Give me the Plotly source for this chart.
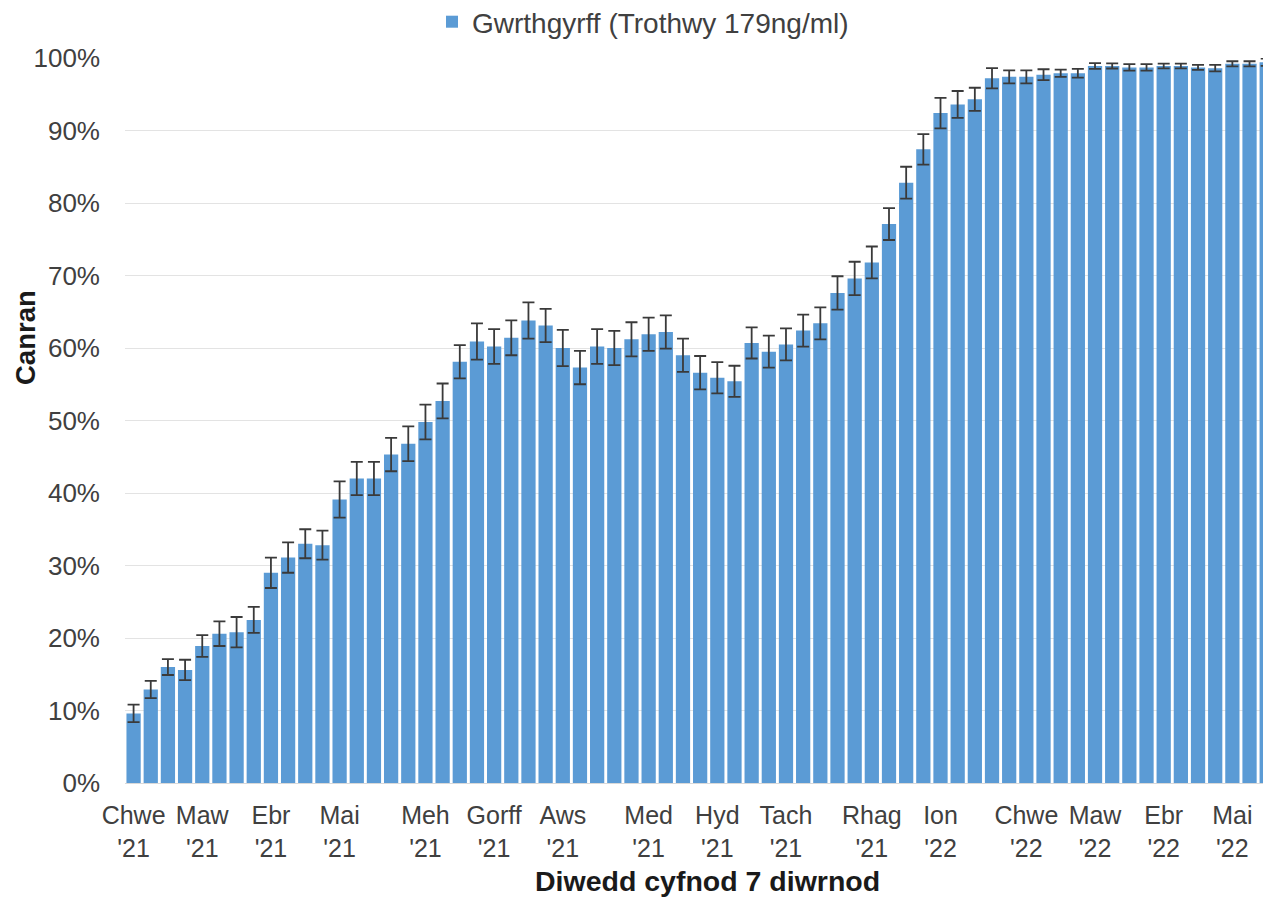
import plotly.graph_objects as go

# Weekly share of adults with antibodies (7-day periods), %
values = [9.6, 12.9, 16.0, 15.6, 18.9, 20.6, 20.8, 22.5, 29.0, 31.1,
          33.0, 32.8, 39.1, 42.0, 42.0, 45.3, 46.8, 49.8, 52.7, 58.1,
          60.9, 60.2, 61.4, 63.8, 63.1, 60.0, 57.3, 60.2, 60.0, 61.2,
          61.9, 62.2, 59.0, 56.6, 55.9, 55.4, 60.7, 59.5, 60.5, 62.4,
          63.4, 67.6, 69.6, 71.8, 77.1, 82.8, 87.4, 92.4, 93.6, 94.3,
          97.2, 97.4, 97.4, 97.7, 97.9, 97.9, 98.9, 98.9, 98.7, 98.7,
          98.9, 98.9, 98.7, 98.6, 99.2, 99.2, 99.4]
errors = [1.2, 1.2, 1.1, 1.4, 1.5, 1.7, 2.1, 1.8, 2.1, 2.1,
          2.0, 2.0, 2.5, 2.3, 2.3, 2.3, 2.4, 2.4, 2.4, 2.3,
          2.5, 2.4, 2.4, 2.5, 2.3, 2.5, 2.3, 2.4, 2.35, 2.35,
          2.3, 2.3, 2.3, 2.3, 2.15, 2.15, 2.15, 2.2, 2.2, 2.2,
          2.2, 2.3, 2.3, 2.2, 2.2, 2.2, 2.1, 2.1, 1.85, 1.6,
          1.4, 0.9, 0.9, 0.75, 0.5, 0.6, 0.4, 0.35, 0.45, 0.45,
          0.32, 0.32, 0.35, 0.45, 0.35, 0.35, 0.5]
weeks = list(range(len(values)))

tick_weeks = [0, 4, 8, 12, 17, 21, 25, 30, 34, 38, 43, 47, 52, 56, 60, 64]
tick_labels = ["Chwe<br>'21", "Maw<br>'21", "Ebr<br>'21", "Mai<br>'21",
               "Meh<br>'21", "Gorff<br>'21", "Aws<br>'21", "Med<br>'21",
               "Hyd<br>'21", "Tach<br>'21", "Rhag<br>'21", "Ion<br>'22",
               "Chwe<br>'22", "Maw<br>'22", "Ebr<br>'22", "Mai<br>'22"]
y_ticks = [0, 10, 20, 30, 40, 50, 60, 70, 80, 90, 100]

series_name = "Gwrthgyrff (Trothwy 179ng/ml)"
x_title = "Diwedd cyfnod 7 diwrnod"
y_title = "Canran"

FONT = "Liberation Sans, Arial, sans-serif"
OFF = 8  # default page body margin
W, H = 1271 - OFF, 899 - OFF
L, R_EDGE, T, B_EDGE = 125 - OFF, 1271 - OFF, 58 - OFF, 783 - OFF

fig = go.Figure()
fig.add_trace(go.Bar(
    x=weeks, y=values, name=series_name,
    marker=dict(color="#5B9BD5", line=dict(width=0)),
    error_y=dict(type="data", array=errors, visible=True,
                 color="#3a3a3a", thickness=1.8, width=6),
    showlegend=True,
))

fig.update_layout(
    width=W, height=H,
    margin=dict(l=L, r=W - R_EDGE, t=T, b=H - B_EDGE, pad=0,
                autoexpand=False),
    paper_bgcolor="white", plot_bgcolor="white",
    bargap=0.17,
    font=dict(family=FONT, color="#404040", size=26),
    showlegend=True,
    legend=dict(orientation="h", xref="container", yref="container",
                x=(473 - OFF - 41) / W, xanchor="left",
                y=1 - (22 - OFF) / H, yanchor="middle",
                font=dict(size=28, color="#404040"),
                bgcolor="rgba(0,0,0,0)", borderwidth=0,
                itemwidth=30),
    xaxis=dict(range=[-0.5, 66.25], tickmode="array", tickvals=tick_weeks,
               ticktext=tick_labels, showgrid=False, zeroline=False,
               showline=True, linecolor="#D9D9D9", linewidth=1,
               ticks="", ticklabelstandoff=10,
               tickfont=dict(size=25, color="#404040")),
    yaxis=dict(range=[0, 100], tickmode="array", tickvals=y_ticks,
               ticktext=[f"{v}%" for v in y_ticks],
               showgrid=True, gridcolor="#E3E3E3", gridwidth=1,
               zeroline=False, showline=False, ticks="",
               ticklabelstandoff=24,
               tickfont=dict(size=26, color="#404040")),
)

pw = R_EDGE - L
ph = B_EDGE - T
fig.add_annotation(text=f"<b>{y_title}</b>", textangle=-90,
                   xref="paper", yref="paper",
                   x=(25 - OFF - L) / pw, y=(B_EDGE - (338 - OFF)) / ph,
                   xanchor="center", yanchor="middle", showarrow=False,
                   font=dict(size=27.5, color="#1a1a1a", family=FONT))
fig.add_annotation(text=f"<b>{x_title}</b>",
                   xref="paper", yref="paper",
                   x=(707 - OFF - L) / pw, y=(B_EDGE - (881 - OFF)) / ph,
                   xanchor="center", yanchor="middle", showarrow=False,
                   font=dict(size=28.5, color="#1a1a1a", family=FONT))

fig.write_html("out.html")
